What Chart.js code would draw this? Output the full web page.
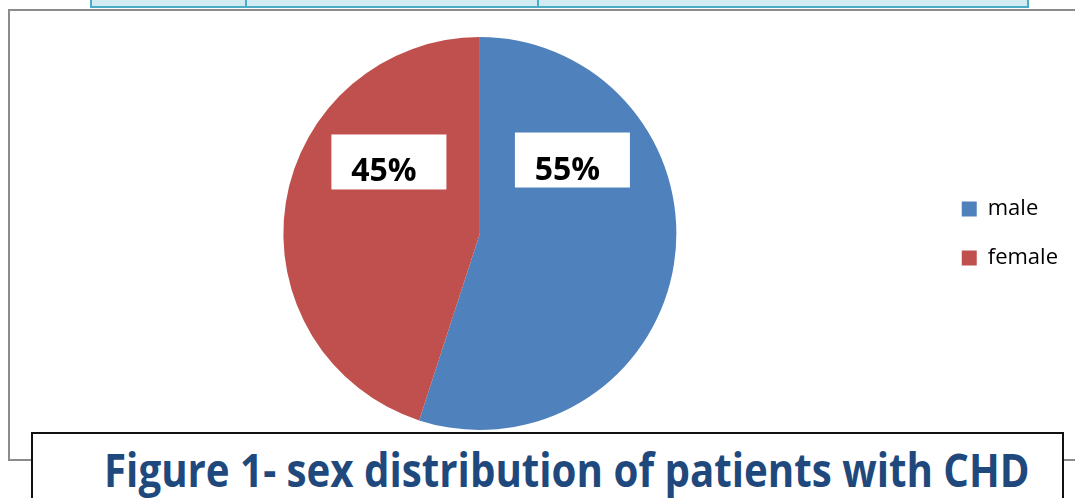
<!DOCTYPE html>
<html>
<head>
<meta charset="utf-8">
<script src="https://cdn.jsdelivr.net/npm/chart.js@4/dist/chart.umd.min.js"></script>
<style>
  html, body { margin: 0; padding: 0; background: #fff; overflow: hidden; }
  body { width: 1075px; height: 498px; position: relative; }
  .table-strip {
    position: absolute; left: 90px; top: -10px; width: 939px; height: 18px;
    box-sizing: border-box; background: #d2eaf2; border: 2px solid #4bacc6; z-index: 2;
  }
  .table-strip .col { position: absolute; top: 0; bottom: 0; width: 2px; background: #4bacc6; }
  .frame {
    position: absolute; left: 8px; top: 9px; width: 1100px; height: 452px;
    box-sizing: border-box; border: 2px solid #8c8c8c;
  }
  .chart-box { position: absolute; left: 0; top: 0; width: 1068px; height: 498px; z-index: 1; }
  .caption-box {
    position: absolute; left: 31px; top: 432px; width: 1033px; height: 100px;
    box-sizing: border-box; border: 2px solid #111; background: #fff; z-index: 3;
  }
  .caption {
    position: absolute; left: 104px; top: 446px; z-index: 4; white-space: nowrap;
    font-family: "Open Sans", sans-serif; font-weight: bold; font-size: 46px; line-height: 1;
    color: #1f497d; transform-origin: left top;
  }
</style>
</head>
<body>
<div class="table-strip">
  <div class="col" style="left:153px"></div>
  <div class="col" style="left:445px"></div>
</div>
<div class="frame"></div>
<div class="chart-box"><canvas id="chart-1"></canvas></div>
<div class="caption-box"></div>
<div class="caption" id="caption">Figure 1- sex distribution of patients with CHD</div>

<script>
var labels = ['male', 'female'];
var values = [55, 45];
var colors = ['#4f81bd', '#c0504d'];

// white boxes with the percentage, placed relative to the pie centre
var boxLabels = {
    id: 'boxLabels',
    afterDatasetsDraw: function (chart, args, opts) {
        var ctx = chart.ctx;
        var data = chart.data.datasets[0].data;
        var total = data.reduce(function (a, b) { return a + b; }, 0);
        var arcs = chart.getDatasetMeta(0).data;
        ctx.save();
        arcs.forEach(function (arc, i) {
            var r = arc.outerRadius;
            var cx = arc.x + opts.offsets[i][0] * r;
            var cy = arc.y + opts.offsets[i][1] * r;
            var w = opts.boxWidth, h = opts.boxHeight;
            ctx.fillStyle = '#fff';
            ctx.fillRect(cx - w / 2, cy - h / 2, w, h);
            ctx.fillStyle = '#000';
            ctx.font = 'bold 32px "Open Sans"';
            ctx.textAlign = 'center';
            ctx.textBaseline = 'alphabetic';
            ctx.fillText(Math.round(data[i] / total * 100) + '%', cx - 5, cy - h / 2 + 47);
        });
        ctx.restore();
    }
};

var chart1 = document.getElementById('chart-1').getContext('2d');

var myChart = new Chart(chart1, {
    type: 'pie',
    data: {
        labels: labels,
        datasets: [{
            data: values,
            backgroundColor: colors,
            borderWidth: 0
        }]
    },
    options: {
        responsive: true,
        maintainAspectRatio: false,
        animation: false,
        layout: {
            padding: { left: 25, right: 0, top: 37, bottom: 68 }
        },
        plugins: {
            legend: {
                display: true,
                position: 'right',
                labels: {
                    boxWidth: 15,
                    boxHeight: 15,
                    padding: 27,
                    color: '#000',
                    font: { family: 'Open Sans', size: 22 }
                }
            },
            tooltip: { enabled: false },
            boxLabels: {
                offsets: [[0.471, -0.374], [-0.463, -0.364]],
                boxWidth: 115,
                boxHeight: 55
            }
        }
    },
    plugins: [boxLabels]
});

// squeeze the caption to the width of the printed line
var cap = document.getElementById('caption');
cap.style.transform = 'scaleX(' + (926 / cap.offsetWidth) + ')';
</script>
</body>
</html>
